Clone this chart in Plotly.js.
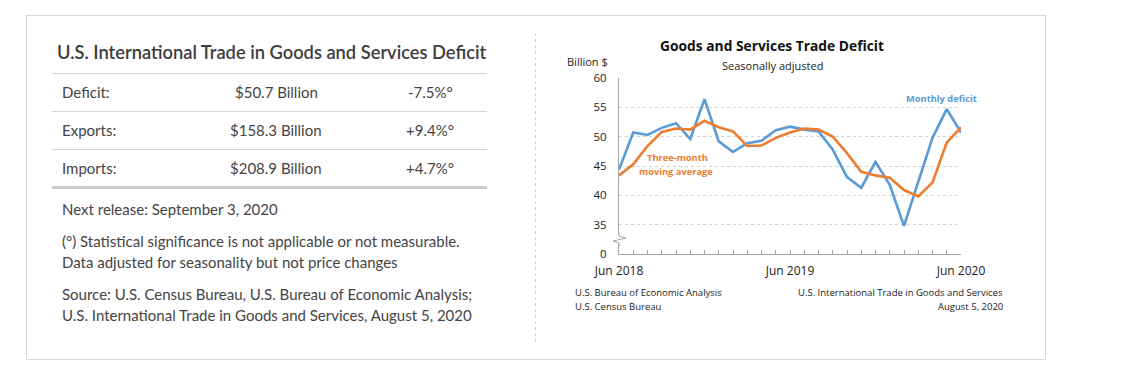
<!DOCTYPE html>
<html><head><meta charset="utf-8">
<script src="https://cdn.plot.ly/plotly-3.0.1.min.js"></script>
<style>html,body{margin:0;padding:0;background:#fff;}#chart{width:1147px;height:377px;}</style>
</head><body><div id="chart"></div>
<script>
// ---- data ----
const months = ["Jun 2018","Jul 2018","Aug 2018","Sep 2018","Oct 2018","Nov 2018","Dec 2018",
  "Jan 2019","Feb 2019","Mar 2019","Apr 2019","May 2019","Jun 2019","Jul 2019","Aug 2019",
  "Sep 2019","Oct 2019","Nov 2019","Dec 2019","Jan 2020","Feb 2020","Mar 2020","Apr 2020",
  "May 2020","Jun 2020"];
const monthlyDeficit = [44.4,50.7,50.3,51.5,52.3,49.6,56.4,49.2,47.4,48.9,49.3,51.1,51.7,
  51.2,50.9,47.8,43.1,41.3,45.7,41.8,34.8,42.4,49.8,54.7,50.7];
const movingAverage = [43.4,45.3,48.4,50.8,51.4,51.2,52.7,51.6,50.9,48.4,48.5,49.8,50.7,
  51.4,51.2,50.0,47.2,44.0,43.4,43.0,40.9,39.8,42.2,49.0,51.6];
const yTickVals = [30,35,40,45,50,55,60];
const yTickText = ["0","35","40","45","50","55","60"];
const labelledMonths = ["Jun 2018","Jun 2019","Jun 2020"];

const tableRows = [
  ["Deficit:","$50.7 Billion","-7.5%°"],
  ["Exports:","$158.3 Billion","+9.4%°"],
  ["Imports:","$208.9 Billion","+4.7%°"]
];

// ---- helpers (page pixels -> paper fraction) ----
const W = 1147, H = 377;
const px = x => x / W;
const py = y => 1 - y / H;

const BLUE = "#5b9bd5", ORANGE = "#ed7d31";
const CF = "Open Sans, Noto Sans, sans-serif";
const LF = "Lato, sans-serif";

const traces = [
  {x: months, y: monthlyDeficit, type: "scatter", mode: "lines",
   line: {color: BLUE, width: 2.6}, hoverinfo: "x+y", name: "Monthly deficit"},
  {x: months, y: movingAverage, type: "scatter", mode: "lines",
   line: {color: ORANGE, width: 2.6}, hoverinfo: "x+y", name: "Three-month moving average"}
];

const ann = [];
function txt(x, y, text, opts) {
  ann.push(Object.assign({xref: "paper", yref: "paper", x: px(x), y: py(y), text: text,
    showarrow: false, xanchor: "left", yanchor: "middle",
    font: {family: LF, size: 15, color: "#444"}}, opts || {}));
}
// left panel
txt(55, 52, "U.S. International Trade in Goods and Services Deficit",
  {font: {family: LF, size: 18.3, color: "#3d3d3d", weight: 600}});
const rowY = [92, 130, 168];
tableRows.forEach((r, i) => {
  txt(60, rowY[i], r[0]);
  txt(276, rowY[i], r[1], {xanchor: "center"});
  txt(430, rowY[i], r[2], {xanchor: "center"});
});
txt(60, 209, "Next release: September 3, 2020");
txt(60, 241, "(°) Statistical significance is not applicable or not measurable.");
txt(60, 262, "Data adjusted for seasonality but not price changes");
txt(60, 294, "Source: U.S. Census Bureau, U.S. Bureau of Economic Analysis;");
txt(60, 315, "U.S. International Trade in Goods and Services, August 5, 2020");

// chart text
txt(772, 46, "<b>Goods and Services Trade Deficit</b>", {xanchor: "center", font: {family: CF, size: 13.8, color: "#111"}});
txt(772, 65, "Seasonally adjusted", {xanchor: "center", font: {family: CF, size: 11, color: "#222"}});
txt(587, 61, "Billion $", {xanchor: "center", font: {family: CF, size: 11, color: "#222"}});
txt(941, 99, "<b>Monthly deficit</b>", {xanchor: "center", font: {family: CF, size: 9.3, color: BLUE}});
txt(677, 157, "<b>Three-month</b>", {xanchor: "center", font: {family: CF, size: 9.3, color: ORANGE}});
txt(676, 171, "<b>moving average</b>", {xanchor: "center", font: {family: CF, size: 9.3, color: ORANGE}});
txt(573, 292, "U.S. Bureau of Economic Analysis", {font: {family: CF, size: 9.5, color: "#222"}});
txt(573, 306, "U.S. Census Bureau", {font: {family: CF, size: 9.5, color: "#222"}});
txt(1005, 292, "U.S. International Trade in Goods and Services", {xanchor: "right", font: {family: CF, size: 9.5, color: "#222"}});
txt(1005, 306, "August 5, 2020", {xanchor: "right", font: {family: CF, size: 9.5, color: "#222"}});

const shapes = [
  // card border
  {type: "rect", xref: "paper", yref: "paper", x0: px(26.5), x1: px(1045.5), y0: py(15.5), y1: py(359.5),
   line: {color: "#d9d9d9", width: 1}, fillcolor: "rgba(0,0,0,0)", layer: "below"},
  // divider
  {type: "line", xref: "paper", yref: "paper", x0: px(535.5), x1: px(535.5), y0: py(33), y1: py(345),
   line: {color: "#cfcfcf", width: 1, dash: "dot"}},
  // table lines
  {type: "line", xref: "paper", yref: "paper", x0: px(52), x1: px(487), y0: py(73.5), y1: py(73.5), line: {color: "#d4d4d4", width: 1}},
  {type: "line", xref: "paper", yref: "paper", x0: px(52), x1: px(487), y0: py(111.5), y1: py(111.5), line: {color: "#d4d4d4", width: 1}},
  {type: "line", xref: "paper", yref: "paper", x0: px(52), x1: px(487), y0: py(149.5), y1: py(149.5), line: {color: "#d4d4d4", width: 1}},
  {type: "line", xref: "paper", yref: "paper", x0: px(52), x1: px(487), y0: py(187.5), y1: py(187.5), line: {color: "#cccccc", width: 3}},
  // axis break zigzag
  {type: "rect", xref: "paper", yref: "paper", x0: px(617.5), x1: px(620.5), y0: py(235), y1: py(244),
   line: {width: 0}, fillcolor: "#fff"},
  {type: "path", xref: "paper", yref: "paper",
   path: `M ${px(619)} ${py(233)} L ${px(619)} ${py(236)} L ${px(626)} ${py(238)} L ${px(613)} ${py(241)} L ${px(619)} ${py(243)} L ${px(619)} ${py(246)}`,
   line: {color: "#a6a6a6", width: 1}}
];

const layout = {
  width: W, height: H, margin: {l: 0, r: 0, t: 0, b: 0},
  paper_bgcolor: "#fff", plot_bgcolor: "rgba(0,0,0,0)", showlegend: false,
  font: {family: CF, size: 11, color: "#222"},
  xaxis: {domain: [px(619), px(961)], type: "category", range: [0, months.length - 1],
    tickmode: "array", tickvals: months,
    ticktext: months.map(m => labelledMonths.includes(m) ? m : ""),
    ticks: "inside", ticklen: 4, tickcolor: "#a6a6a6", tickwidth: 1,
    showline: true, linecolor: "#a6a6a6", linewidth: 1, showgrid: false, zeroline: false,
    ticklabelstandoff: 6, tickfont: {family: CF, size: 12, color: "#222"}, fixedrange: true},
  yaxis: {domain: [py(254), py(78)], range: [30, 60], tickmode: "array",
    tickvals: yTickVals, ticktext: yTickText, ticks: "", showline: true, linecolor: "#a6a6a6",
    linewidth: 1, showgrid: true, gridcolor: "#d0d0d0", griddash: "dot", gridwidth: 1,
    zeroline: false, ticklabelstandoff: 9, tickfont: {family: CF, size: 11.5, color: "#222"}, fixedrange: true},
  annotations: ann, shapes: shapes
};
Plotly.newPlot("chart", traces, layout, {displayModeBar: false, staticPlot: true});
</script></body></html>
